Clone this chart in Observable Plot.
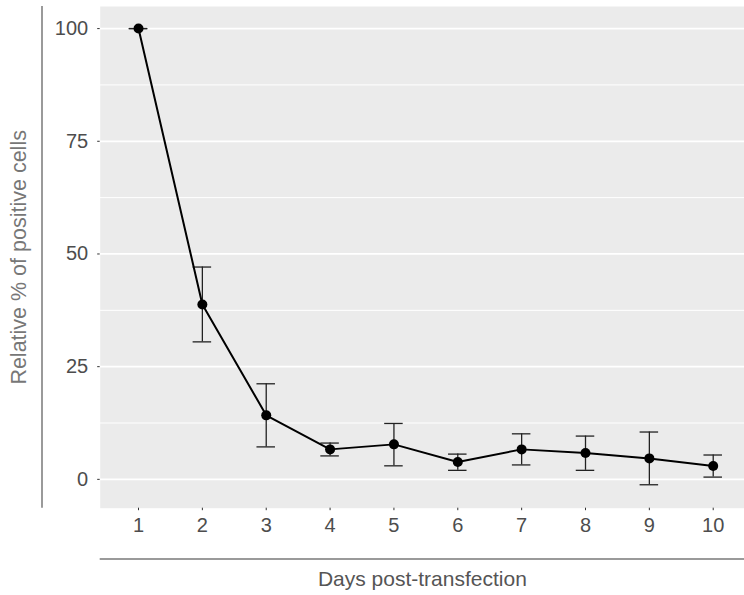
<!DOCTYPE html>
<html>
<head>
<meta charset="utf-8">
<script src="https://cdn.jsdelivr.net/npm/d3@7"></script>
<script src="https://cdn.jsdelivr.net/npm/@observablehq/plot@0.6"></script>
<style>
  html, body { margin: 0; padding: 0; background: #fff; overflow: hidden; }
  #chart svg { display: block; overflow: visible; }
</style>
</head>
<body>
<div id="chart"></div>
<script>
// Data
const days = [1, 2, 3, 4, 5, 6, 7, 8, 9, 10];
const meanPct = [100, 38.8, 14.2, 6.65, 7.76, 3.85, 6.65, 5.85, 4.65, 2.95];
const upperPct = [100, 47.1, 21.2, 8.05, 12.4, 5.6, 10.1, 9.6, 10.5, 5.4];
const lowerPct = [100, 30.5, 7.2, 5.2, 3.0, 2.0, 3.2, 2.0, -1.2, 0.5];
const yMajor = [0, 25, 50, 75, 100];
const yMinor = [12.5, 37.5, 62.5, 87.5];
const xLabel = "Days post-transfection";
const yLabel = "Relative % of positive cells";

const data = days.map((d, i) => ({day: d, mean: meanPct[i], lo: lowerPct[i], hi: upperPct[i]}));
const capHalf = 0.145;

const font = "'Liberation Sans', Arial, Helvetica, sans-serif";
const W = 744, H = 595;
const mLeft = 99.7, mTop = 6, mBottom = 87.3, mRight = 0;

const plot = Plot.plot({
  width: W,
  height: H,
  marginLeft: mLeft,
  marginRight: mRight,
  marginTop: mTop,
  marginBottom: mBottom,
  style: {fontFamily: font, background: "#fff", overflow: "visible"},
  x: {domain: [0.4, 10.49], ticks: days},
  y: {domain: [-6.4, 104.9], ticks: yMajor},
  marks: [
    Plot.frame({fill: "#ebebeb", stroke: null}),
    Plot.ruleY(yMinor, {stroke: "#fff", strokeWidth: 1}),
    Plot.ruleY(yMajor, {stroke: "#fff", strokeWidth: 1.8}),
    Plot.axisY({ticks: yMajor, tickSize: 2.5, tickPadding: 9.5, stroke: "#333", fill: "#4d4d4d", fontSize: 20, label: null, tickFormat: d => String(d)}),
    Plot.axisX({ticks: days, tickSize: 2.5, tickPadding: 7, stroke: "#333", fill: "#4d4d4d", fontSize: 20, label: null, tickFormat: d => String(d)}),
    Plot.ruleX(data, {x: "day", y1: "lo", y2: "hi", stroke: "#222", strokeWidth: 1.3}),
    Plot.ruleY(data, {y: "hi", x1: d => d.day - capHalf, x2: d => d.day + capHalf, stroke: "#222", strokeWidth: 1.3}),
    Plot.ruleY(data, {y: "lo", x1: d => d.day - capHalf, x2: d => d.day + capHalf, stroke: "#222", strokeWidth: 1.3}),
    Plot.line(data, {x: "day", y: "mean", stroke: "#000", strokeWidth: 2}),
    Plot.dot(data, {x: "day", y: "mean", r: 5, fill: "#000", stroke: null}),
    Plot.text([yLabel], {frameAnchor: "left", textAnchor: "middle", lineAnchor: "middle", dx: -81, rotate: -90, fontSize: 21.5, fill: "#777", fontFamily: font}),
    Plot.text([xLabel], {frameAnchor: "bottom", textAnchor: "middle", lineAnchor: "middle", dy: 71, fontSize: 21, fill: "#555", fontFamily: font})
  ]
});

// ggplot-style axis lines placed outside the panel, drawn from the plot's own scales
const ys = plot.scale("y"), xs = plot.scale("x");
const svg = d3.select(plot);
const [yBot, yTop] = ys.range;
const [xLeft, xRight] = xs.range;
svg.append("line")
  .attr("x1", 42).attr("x2", 42)
  .attr("y1", Math.min(yBot, yTop)).attr("y2", Math.max(yBot, yTop))
  .attr("stroke", "#9a9a9a").attr("stroke-width", 2);
svg.append("line")
  .attr("x1", xLeft).attr("x2", W)
  .attr("y1", 559).attr("y2", 559)
  .attr("stroke", "#9a9a9a").attr("stroke-width", 2);

document.getElementById("chart").appendChild(plot);
</script>
</body>
</html>
